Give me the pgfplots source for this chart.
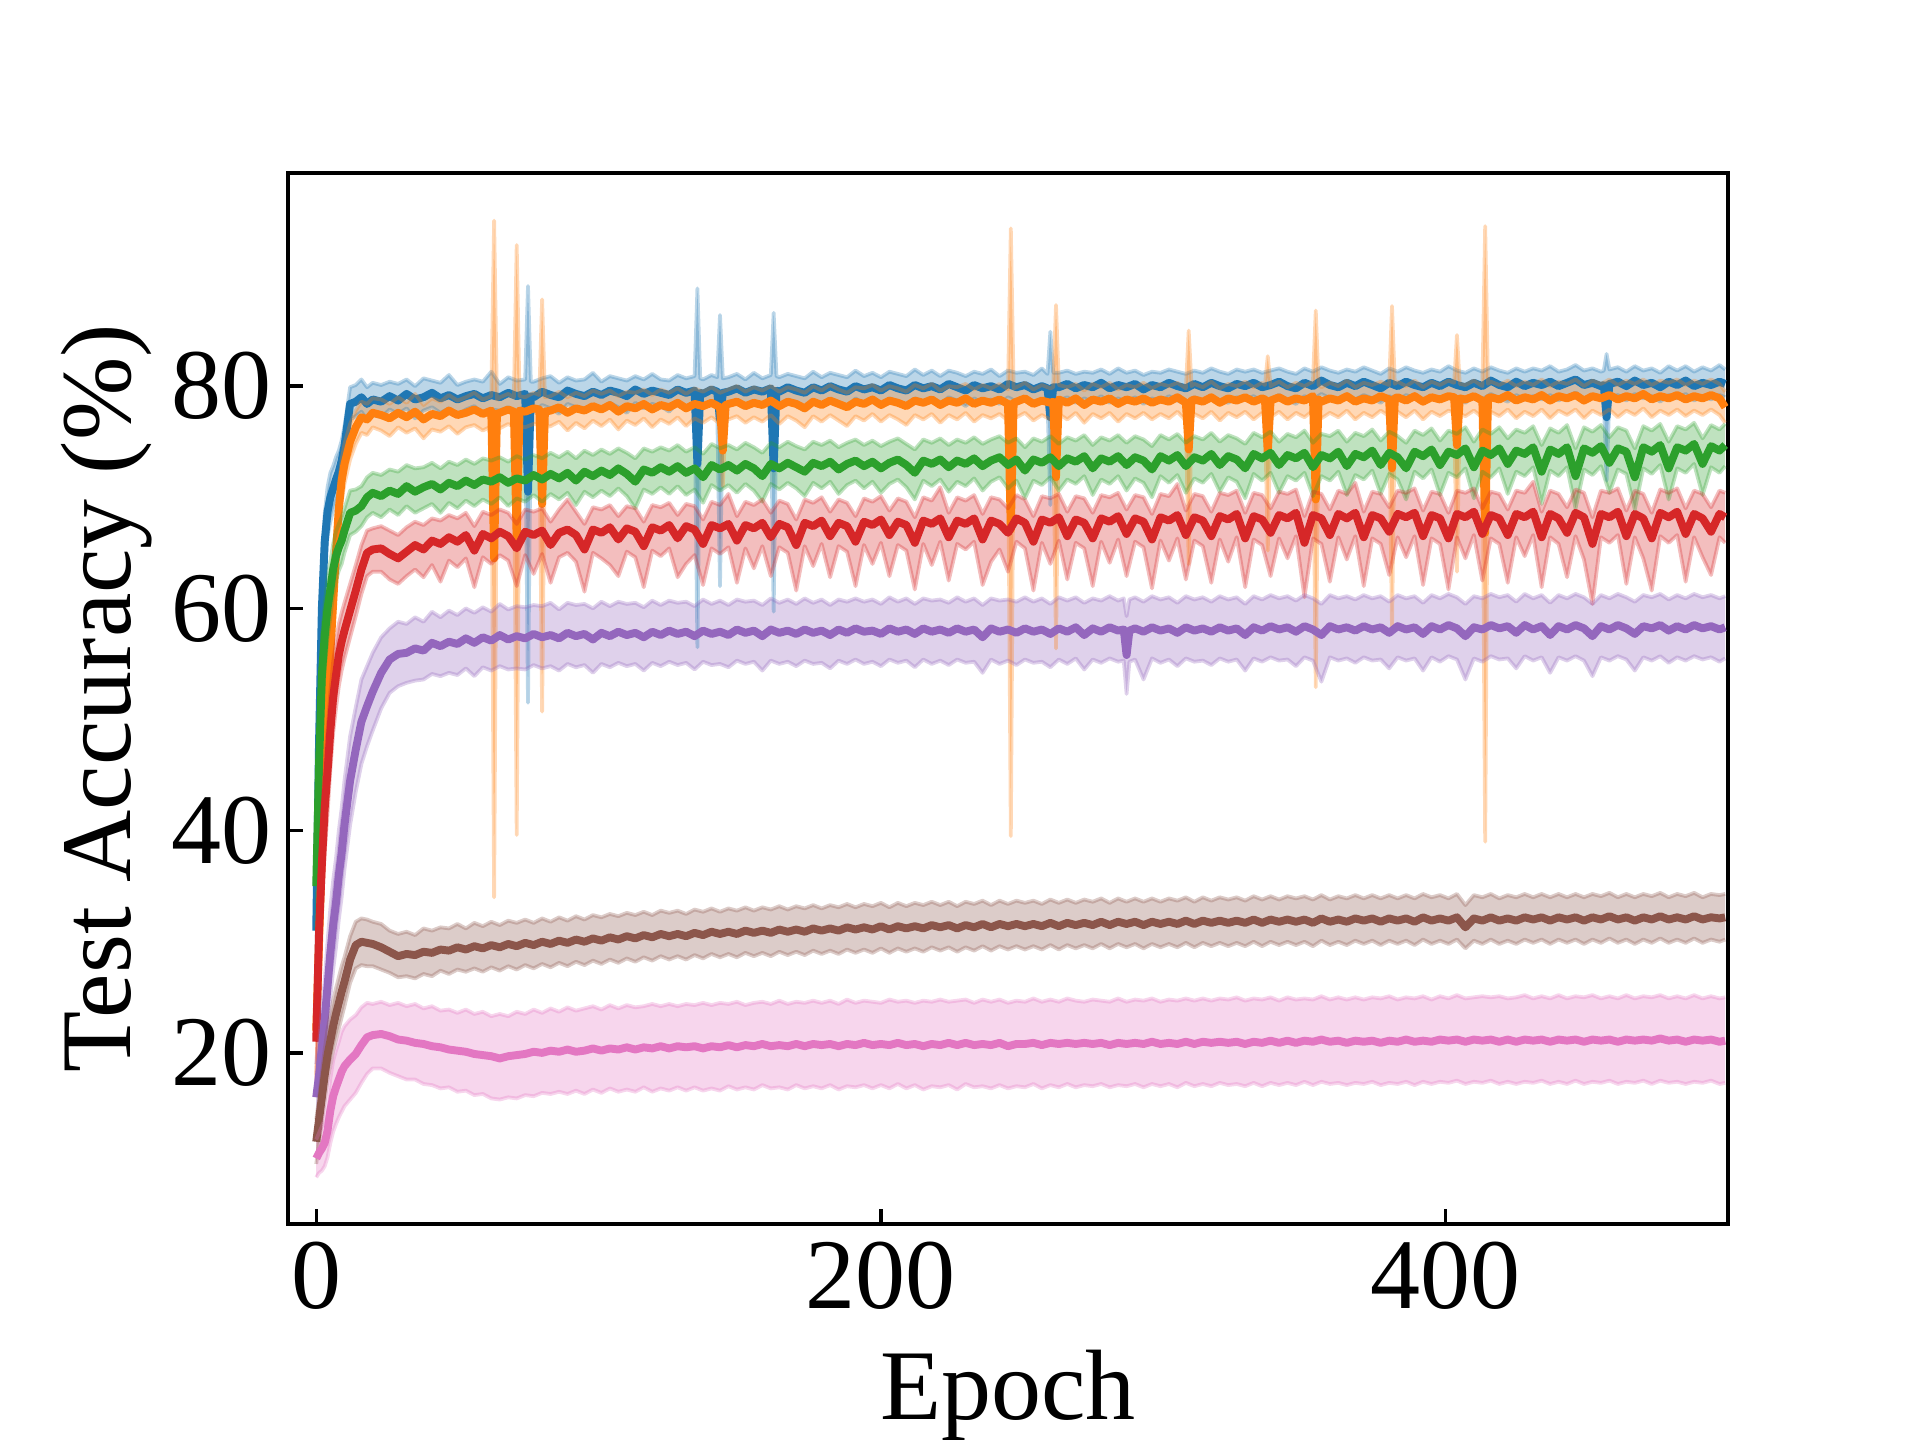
\documentclass[border=0pt]{standalone}
\usepackage{fontspec}
\setmainfont{Liberation Serif}
\usepackage{pgfplots}
\usepackage{pgfplotstable}
\pgfplotsset{compat=1.18}
\usepgfplotslibrary{fillbetween}
\definecolor{cB}{HTML}{1F77B4}
\definecolor{cO}{HTML}{FF7F0E}
\definecolor{cG}{HTML}{2CA02C}
\definecolor{cR}{HTML}{D62728}
\definecolor{cP}{HTML}{9467BD}
\definecolor{cN}{HTML}{8C564B}
\definecolor{cK}{HTML}{E377C2}

\pgfplotstableread{
x m lo hi
0 31.0 27.5 34.5
1 48.0 44.0 52.0
2 60.0 56.5 63.5
3 66.0 63.5 68.5
4 68.7 66.5 70.9
5 70.0 67.8 72.2
6 70.8 68.8 72.8
7 71.6 69.7 73.6
8 72.3 70.5 74.2
9 73.3 71.6 75.1
10 74.6 72.9 76.4
11 76.5 75.0 78.1
12 78.4 77.0 79.9
14 78.6 77.3 80.1
16 79.0 77.7 80.6
18 78.4 77.0 79.9
20 78.8 77.4 80.3
23 78.6 77.2 80.1
26 79.1 77.9 80.4
29 78.7 77.5 80.2
32 79.3 78.0 80.6
35 78.8 77.1 80.0
38 79.0 77.8 80.7
41 79.4 78.1 80.5
44 78.9 77.6 80.3
47 79.2 78.0 81.0
50 78.8 77.4 80.1
53 79.1 77.9 80.4
56 79.3 78.2 80.6
59 78.9 77.5 80.4
62 79.2 77.9 81.3
65 79.0 77.8 80.2
68 79.4 78.1 80.8
71 79.1 77.6 80.5
74 79.3 78.2 80.6
75 70.5 51.5 89.0
76 79.1 77.9 80.4
77 79.0 77.7 80.4
80 79.5 78.3 80.7
83 79.2 78.0 80.9
86 79.0 77.5 80.3
89 79.6 78.4 80.8
92 79.3 78.1 80.5
95 79.1 77.8 80.6
98 79.5 78.3 81.2
101 79.2 77.9 80.4
104 79.6 78.5 80.9
107 79.4 78.1 80.7
110 79.1 77.6 80.5
113 79.7 78.5 80.9
116 79.3 78.0 80.6
119 79.6 78.4 81.1
122 79.4 78.2 80.6
125 79.2 77.7 80.5
128 79.7 78.5 81.0
131 79.4 78.2 80.7
134 79.6 78.3 80.9
135 73.0 56.5 88.8
136 79.4 78.1 80.7
137 79.3 78.0 80.6
140 79.7 78.6 81.0
142 79.5 78.2 80.8
143 77.0 62.0 86.4
144 79.4 78.1 80.7
146 79.5 78.2 80.8
149 79.8 78.6 81.1
152 79.4 78.0 80.6
155 79.7 78.5 81.2
158 79.5 78.2 80.7
161 79.8 78.6 81.0
162 72.6 59.7 86.6
163 79.6 78.4 80.9
164 79.5 78.3 80.8
167 79.9 78.7 81.1
170 79.6 78.2 80.9
173 79.4 77.8 80.7
176 79.9 78.7 81.3
179 79.6 78.4 80.8
182 80.0 78.8 81.2
185 79.7 78.5 81.0
188 79.5 78.0 80.8
191 80.0 78.9 81.4
194 79.7 78.4 80.9
197 79.9 78.7 81.2
200 79.6 78.3 80.8
203 80.1 78.9 81.3
206 79.8 78.6 81.1
209 79.6 78.1 80.9
212 80.1 78.9 81.5
215 79.8 78.6 81.0
218 80.0 78.8 81.4
221 79.7 78.4 80.9
224 80.2 79.0 81.4
227 79.9 78.7 81.2
230 79.6 78.2 80.9
233 80.1 78.9 81.3
236 79.8 78.5 81.1
239 80.0 78.8 81.5
242 79.7 78.4 80.9
245 80.2 79.0 81.4
248 79.9 78.6 81.2
251 80.1 78.9 81.3
254 79.7 78.3 81.0
257 80.0 78.8 81.6
259 79.8 78.6 81.1
260 77.2 69.3 84.9
261 79.9 78.7 81.2
263 79.9 78.7 81.2
266 80.2 79.0 81.4
269 79.8 78.5 81.1
272 80.1 78.9 81.3
275 79.9 78.6 81.2
278 80.3 79.1 81.5
281 79.8 78.5 81.1
284 80.1 78.9 81.6
287 79.9 78.6 81.2
290 80.2 79.0 81.4
293 79.7 78.4 81.0
296 80.1 78.9 81.3
299 79.9 78.6 81.2
302 80.3 79.1 81.5
305 80.0 78.7 81.3
308 79.8 78.4 81.1
311 80.2 79.0 81.4
314 79.9 78.7 81.2
317 80.3 79.1 81.6
320 80.0 78.7 81.3
323 79.8 78.5 81.1
326 80.2 79.0 81.5
329 80.0 78.8 81.3
332 80.3 79.1 81.5
335 79.9 78.6 81.2
338 80.1 78.8 81.4
341 80.4 79.2 81.6
344 80.0 78.7 81.3
347 79.8 78.4 81.1
350 80.3 79.1 81.6
353 80.0 78.8 81.3
356 80.5 79.3 81.7
359 80.1 78.9 81.4
362 79.9 78.6 81.2
365 80.3 79.1 81.5
368 80.0 78.8 81.3
371 80.4 79.2 81.7
374 80.1 78.9 81.4
377 79.8 78.5 81.1
380 80.3 79.1 81.6
383 80.0 78.7 81.3
386 80.4 79.2 81.7
389 80.1 78.9 81.4
392 79.9 78.6 81.2
395 80.3 79.1 81.5
398 80.0 78.8 81.3
401 80.4 79.2 81.8
404 80.1 78.9 81.4
407 79.9 78.5 81.2
410 80.3 79.1 81.6
413 80.0 78.8 81.3
416 80.5 79.3 81.7
419 80.1 78.9 81.4
422 79.9 78.6 81.2
425 80.4 79.2 81.6
428 80.0 78.8 81.3
431 80.3 79.1 81.6
434 80.1 78.8 81.4
437 80.4 79.2 81.8
440 80.0 78.7 81.3
443 80.3 79.1 81.5
446 80.6 79.4 81.9
449 80.1 78.9 81.4
452 80.3 79.1 81.6
455 80.0 78.8 81.3
456 80.1 78.9 81.4
457 77.2 71.5 82.9
458 80.2 79.0 81.5
461 80.4 79.2 81.7
464 80.0 78.7 81.3
467 80.5 79.3 81.8
470 80.1 78.9 81.4
473 80.3 79.1 81.6
476 79.9 78.6 81.2
479 80.4 79.2 81.8
482 80.1 78.9 81.4
485 80.5 79.3 81.8
488 80.0 78.7 81.3
491 80.3 79.1 81.7
494 80.1 78.8 81.4
497 80.4 79.2 81.9
499 80.2 79.0 81.5
}\tB

\pgfplotstableread{
x m lo hi
0 22.0 18.0 26.0
1 30.0 26.0 34.0
2 38.0 33.5 42.5
3 45.0 40.5 49.5
4 51.0 47.0 55.0
5 56.0 52.5 59.5
6 60.5 57.5 63.5
7 65.0 62.5 67.5
8 69.0 67.0 71.0
9 71.5 69.6 73.4
10 73.0 71.2 74.8
11 74.0 72.3 75.7
12 75.0 73.4 76.6
14 76.3 74.8 77.8
16 77.2 75.8 78.6
18 77.0 75.6 78.4
20 77.6 76.3 78.9
23 77.4 76.0 78.8
26 77.1 75.5 78.4
29 77.6 76.3 79.0
32 77.2 75.8 78.5
35 77.7 76.2 79.3
38 77.0 75.3 78.3
41 77.5 76.1 78.9
44 77.3 75.9 78.6
47 77.8 76.4 79.2
50 77.4 75.7 78.7
53 77.6 76.3 79.0
56 77.9 76.5 79.4
59 77.5 76.0 78.8
62 77.8 76.4 79.1
63 64.5 34.0 94.9
64 77.5 76.1 78.8
65 77.6 76.2 79.0
68 77.9 76.6 79.3
70 77.7 76.3 79.0
71 66.1 39.6 92.7
72 77.8 76.4 79.1
74 77.7 76.3 79.0
77 78.0 76.6 79.4
79 77.9 76.5 79.2
80 69.4 50.7 87.8
81 77.7 76.3 79.0
83 77.8 76.4 79.1
86 78.1 76.8 79.5
89 77.6 76.0 79.0
92 78.0 76.7 79.4
95 77.8 76.2 79.1
98 78.2 76.9 79.6
101 77.9 76.4 79.3
104 78.3 77.0 79.6
107 77.7 76.1 79.1
110 78.2 76.9 79.5
113 78.0 76.5 79.4
116 78.4 77.1 79.7
119 77.9 76.3 79.2
122 78.3 77.0 79.7
125 78.1 76.6 79.4
128 78.5 77.2 79.8
131 78.0 76.4 79.3
134 78.4 77.1 79.8
137 78.2 76.7 79.5
140 78.5 77.2 79.9
143 78.1 76.6 79.4
144 74.2 71.0 79.5
145 78.3 77.0 79.6
146 78.4 77.0 79.7
149 78.6 77.3 80.0
152 78.2 76.7 79.5
155 78.5 77.2 79.9
158 78.3 76.8 79.6
161 78.7 77.4 80.0
164 78.2 76.6 79.5
167 78.6 77.3 79.9
170 78.4 76.9 79.7
173 78.0 76.3 79.4
176 78.6 77.3 80.0
179 78.3 76.8 79.6
182 78.7 77.4 80.1
185 78.4 76.9 79.7
188 78.1 76.4 79.4
191 78.6 77.3 79.9
194 78.4 76.9 79.8
197 78.8 77.5 80.1
200 78.3 76.8 79.6
203 78.7 77.4 80.0
206 78.5 77.0 79.8
209 78.2 76.5 79.5
212 78.7 77.4 80.1
215 78.5 77.0 79.8
218 78.8 77.5 80.2
221 78.3 76.7 79.6
224 78.7 77.4 80.0
227 78.5 77.0 79.9
230 78.9 77.6 80.2
233 78.4 76.8 79.7
236 78.7 77.4 80.1
239 78.5 77.1 79.8
242 78.8 77.5 80.2
245 78.4 76.9 79.7
246 67.1 39.5 94.2
247 78.5 77.1 79.8
248 78.6 77.2 79.9
251 78.9 77.6 80.3
254 78.4 76.9 79.7
257 78.7 77.4 80.1
260 78.5 77.0 79.8
261 78.6 77.2 79.9
262 71.8 56.4 87.3
263 78.8 77.5 80.1
266 78.5 77.0 79.9
269 78.9 77.6 80.2
272 78.3 76.7 79.6
275 78.8 77.5 80.2
278 78.6 77.1 79.9
281 78.9 77.6 80.3
284 78.4 76.8 79.7
287 78.8 77.5 80.1
290 78.6 77.1 79.9
293 78.9 77.6 80.3
296 78.5 77.0 79.8
299 78.8 77.5 80.2
302 78.6 77.1 80.0
305 79.0 77.7 80.3
308 78.5 76.9 79.8
309 74.3 64.0 85.0
310 78.7 77.3 80.0
311 78.8 77.5 80.2
314 78.6 77.1 79.9
317 79.0 77.7 80.4
320 78.5 76.9 79.8
323 78.9 77.6 80.2
326 78.7 77.2 80.0
329 79.0 77.7 80.4
332 78.6 77.0 79.9
335 78.9 77.6 80.3
336 78.8 77.4 80.1
337 74.0 65.2 82.7
338 78.7 77.2 80.0
341 79.0 77.7 80.4
344 78.6 77.0 79.9
347 78.9 77.6 80.3
350 78.7 77.2 80.0
353 79.1 77.8 80.4
354 69.8 52.9 86.8
355 78.8 77.4 80.1
356 78.6 77.1 79.9
359 78.9 77.6 80.3
362 78.7 77.2 80.0
365 79.1 77.8 80.5
368 78.6 77.0 79.9
371 78.9 77.6 80.3
374 78.7 77.2 80.1
377 79.1 77.8 80.4
380 78.8 77.3 80.1
381 72.6 58.0 87.2
382 78.9 77.5 80.2
383 79.0 77.7 80.4
386 78.7 77.2 80.0
389 79.1 77.8 80.5
392 78.6 77.0 79.9
395 79.0 77.7 80.4
398 78.8 77.3 80.1
401 79.1 77.8 80.5
403 79.0 77.6 80.3
404 74.7 63.3 84.6
405 78.9 77.5 80.2
407 78.8 77.3 80.1
410 79.1 77.8 80.5
413 78.7 77.2 80.0
414 66.8 39.0 94.4
415 78.9 77.5 80.2
416 79.0 77.7 80.4
419 78.8 77.3 80.1
422 79.2 77.9 80.5
425 78.7 77.1 80.0
428 79.0 77.7 80.4
431 78.8 77.3 80.1
434 79.2 77.9 80.6
437 78.7 77.1 80.0
440 79.1 77.8 80.4
443 78.9 77.4 80.2
446 79.2 77.9 80.6
449 78.7 77.1 80.0
452 79.1 77.8 80.5
455 78.9 77.4 80.2
458 79.2 77.9 80.6
461 78.8 77.2 80.1
464 79.1 77.8 80.5
467 78.9 77.4 80.2
470 79.3 78.0 80.6
473 78.8 77.2 80.1
476 79.1 77.8 80.5
479 78.9 77.4 80.3
482 79.2 77.9 80.6
485 78.8 77.3 80.1
488 79.1 77.8 80.5
491 78.9 77.4 80.2
494 79.2 77.9 80.6
497 78.9 77.4 80.2
499 78.1 76.7 79.5
}\tO

\pgfplotstableread{
x m lo hi
0 35.0 31.0 39.0
1 46.0 42.0 50.0
2 54.0 50.5 57.5
3 57.5 54.5 60.5
4 60.0 57.3 62.7
5 61.7 59.2 64.2
6 63.5 61.2 65.8
7 64.7 62.5 66.9
8 65.5 63.4 67.6
9 66.1 64.0 68.2
10 67.0 65.0 69.0
12 68.6 66.6 70.6
14 68.8 66.9 70.7
16 69.2 67.4 71.0
18 70.0 68.2 71.8
20 70.4 68.6 72.2
23 70.1 68.2 72.0
26 70.6 68.9 72.5
29 70.3 68.4 72.3
32 71.0 69.2 72.9
35 70.5 68.6 72.6
38 70.9 69.0 72.7
41 71.2 69.4 73.1
44 70.7 68.6 72.6
47 71.3 69.5 73.2
50 71.0 69.0 72.9
53 71.5 69.7 73.4
56 71.1 69.2 73.0
59 71.6 69.8 73.5
62 71.4 69.4 73.3
65 71.8 70.0 73.6
68 71.3 69.2 73.2
71 71.7 69.9 73.7
74 71.5 69.6 73.4
77 72.0 70.2 73.8
80 71.6 69.6 73.5
83 72.1 70.3 74.0
86 71.7 69.8 73.6
89 72.2 70.4 74.1
92 71.5 69.3 73.5
95 72.3 70.5 74.2
98 71.9 70.0 73.8
101 72.4 70.6 74.3
104 72.0 70.1 73.9
107 72.6 70.8 74.4
110 72.1 70.1 74.0
113 71.4 69.0 73.5
116 72.5 70.7 74.4
119 72.2 70.3 74.1
122 72.7 70.9 74.5
125 72.3 70.3 74.2
128 72.8 71.0 74.7
131 72.2 70.2 74.1
134 72.6 70.7 74.5
137 71.8 69.5 73.9
140 72.9 71.1 74.8
143 72.5 70.6 74.4
146 72.9 71.1 74.7
149 72.4 70.4 74.3
152 73.0 71.2 74.9
155 72.6 70.6 74.5
158 71.9 69.6 74.0
161 73.0 71.2 74.9
164 72.6 70.7 74.5
167 73.1 71.3 75.0
170 72.7 70.8 74.6
173 72.3 70.1 74.3
176 73.1 71.3 75.0
179 72.8 70.8 74.7
182 73.2 71.4 75.1
185 72.5 70.3 74.5
188 73.0 71.1 74.9
191 73.3 71.5 75.2
194 72.8 70.8 74.7
197 73.2 71.4 75.1
200 72.6 70.4 74.6
203 73.1 71.2 75.0
206 73.4 71.6 75.3
209 72.9 70.9 74.8
212 72.2 69.8 74.3
215 73.3 71.5 75.2
218 73.0 71.0 74.9
221 73.4 71.6 75.3
224 72.7 70.5 74.7
227 73.3 71.4 75.2
230 73.0 71.0 74.9
233 73.5 71.7 75.4
236 72.8 70.6 74.8
239 73.3 71.4 75.2
242 73.6 71.8 75.5
245 72.9 70.8 74.9
248 73.4 71.5 75.3
251 72.4 69.9 74.5
254 73.4 71.5 75.3
257 73.1 71.1 75.0
260 73.6 71.8 75.5
263 72.8 70.6 74.8
266 73.5 71.6 75.4
269 73.2 71.2 75.1
272 73.7 71.9 75.6
275 72.6 70.2 74.7
278 73.5 71.6 75.4
281 73.2 71.2 75.1
284 73.7 71.9 75.6
287 72.9 70.6 74.9
290 73.6 71.7 75.5
293 73.3 71.3 75.2
296 72.5 70.0 74.6
299 73.7 71.9 75.6
302 73.3 71.3 75.2
305 73.8 72.0 75.7
308 72.8 70.4 74.9
311 73.6 71.7 75.5
314 73.3 71.3 75.2
317 73.9 72.1 75.8
320 72.9 70.5 75.0
323 73.7 71.8 75.6
326 73.4 71.4 75.3
329 72.6 69.9 74.8
332 73.9 72.1 75.8
335 73.5 71.5 75.4
338 74.0 72.2 75.9
341 72.9 70.4 75.0
344 73.8 71.9 75.7
347 73.5 71.5 75.4
350 74.0 72.2 76.0
353 72.7 70.1 74.9
356 73.8 71.9 75.7
359 73.5 71.5 75.5
362 74.1 72.3 76.0
365 72.8 70.2 75.0
368 73.9 72.0 75.8
371 73.6 71.6 75.5
374 74.2 72.4 76.1
377 72.9 70.3 75.1
380 74.0 72.1 75.9
383 73.6 71.6 75.5
386 72.6 69.8 74.9
389 74.1 72.3 76.0
392 73.7 71.7 75.6
395 74.3 72.5 76.2
398 72.9 70.2 75.1
401 74.1 72.2 76.0
404 73.8 71.8 75.7
407 74.4 72.6 76.3
410 72.7 69.9 75.0
413 74.2 72.3 76.1
416 73.8 71.8 75.7
419 74.4 72.6 76.3
422 73.0 70.3 75.3
425 74.2 72.3 76.1
428 73.9 71.9 75.8
431 74.5 72.7 76.4
434 72.3 69.4 74.7
437 74.3 72.4 76.2
440 73.9 71.9 75.8
443 74.5 72.7 76.5
446 71.9 69.0 74.4
449 74.4 72.5 76.3
452 74.0 72.0 75.9
455 74.6 72.8 76.5
458 73.1 70.4 75.4
461 74.4 72.5 76.3
464 74.1 72.1 76.0
467 71.8 68.9 74.4
470 74.5 72.6 76.4
473 74.1 72.1 76.0
476 74.7 72.9 76.6
479 72.6 69.8 75.0
482 74.5 72.6 76.4
485 74.2 72.2 76.1
488 74.8 73.0 76.7
491 73.0 70.2 75.3
494 74.6 72.7 76.5
497 74.2 72.2 76.1
499 74.7 72.8 76.6
}\tG

\pgfplotstableread{
x m lo hi
0 21.0 17.5 24.5
1 31.0 27.0 35.0
2 37.0 33.0 41.0
3 42.0 38.0 46.0
4 45.3 41.5 49.1
5 49.0 45.5 52.5
6 52.0 48.8 55.2
7 54.0 51.0 57.0
8 55.8 53.0 58.6
9 57.0 54.4 59.6
10 58.0 55.5 60.5
12 59.8 57.4 62.2
14 61.6 59.3 63.9
16 63.5 61.3 65.7
18 65.0 62.9 67.0
20 65.3 63.3 67.2
23 65.4 63.3 67.4
26 64.9 62.6 67.0
29 64.5 62.2 66.6
32 65.1 62.9 67.3
35 65.7 63.5 67.8
38 65.3 62.8 67.5
41 66.1 63.9 68.1
44 65.8 62.4 67.9
47 66.4 64.3 68.4
50 66.0 63.7 68.1
53 66.6 64.5 68.6
56 65.2 61.9 67.4
59 66.7 64.6 68.7
62 66.3 64.0 68.4
65 66.9 64.8 68.9
68 66.5 64.3 68.6
71 65.4 62.0 67.6
74 66.9 64.8 68.9
77 66.6 63.1 68.7
80 67.0 64.9 69.0
83 65.7 62.3 67.8
86 66.8 64.6 68.9
89 67.1 65.0 69.8
92 66.6 64.2 68.7
95 65.3 61.5 67.6
98 67.1 65.0 69.1
101 66.8 64.5 68.9
104 67.3 63.9 69.3
107 66.2 62.9 68.3
110 67.2 65.1 69.2
113 66.9 64.6 69.0
116 65.6 61.9 67.8
119 67.3 65.2 69.3
122 67.0 64.7 69.1
125 67.5 65.4 69.5
128 66.3 62.8 68.4
131 67.4 64.0 69.4
134 67.1 64.8 69.2
137 65.8 62.1 68.0
140 67.5 65.4 69.6
143 67.2 64.9 69.3
146 67.6 65.5 70.3
149 66.1 62.3 68.3
152 67.5 65.4 69.6
155 67.2 63.6 69.3
158 67.7 65.6 69.8
161 66.4 62.9 68.6
164 67.6 65.5 69.7
167 67.3 65.0 69.4
170 65.7 61.6 68.0
173 67.7 65.6 69.8
176 67.4 63.8 69.5
179 67.9 65.8 70.0
182 66.5 62.8 68.7
185 67.7 65.6 69.8
188 67.4 65.1 69.5
191 66.0 62.0 68.3
194 67.8 65.7 69.9
197 67.5 64.0 69.6
200 68.0 65.9 70.1
203 66.6 62.9 68.8
206 67.8 65.7 69.9
209 67.5 65.2 69.6
212 65.9 61.7 68.2
215 67.9 65.8 70.0
218 67.6 63.9 69.7
221 68.1 66.0 70.9
224 66.4 62.5 68.6
227 67.9 65.8 70.0
230 67.6 65.3 69.7
233 68.1 66.0 70.2
236 66.2 62.1 68.5
239 67.9 64.2 70.0
242 67.6 65.3 69.8
245 66.8 63.3 69.0
248 68.1 66.0 70.2
251 67.7 65.4 69.8
254 66.0 61.6 68.3
257 68.0 65.9 70.1
260 67.7 64.0 69.9
263 68.2 66.1 70.3
266 66.5 62.6 68.7
269 68.0 65.9 70.1
272 67.7 65.4 69.9
275 66.3 62.0 68.6
278 68.1 66.0 70.2
281 67.8 64.1 70.0
284 68.3 66.2 70.4
287 66.7 62.9 68.9
290 68.1 66.0 70.2
293 67.8 65.5 70.0
296 66.2 61.8 68.5
299 68.2 66.1 70.3
302 67.9 64.3 70.1
305 68.4 66.3 71.2
308 66.6 62.6 68.8
311 68.2 66.1 70.3
314 67.9 65.6 70.1
317 66.5 62.3 68.7
320 68.3 66.2 70.4
323 68.0 64.2 70.2
326 68.5 66.4 70.6
329 66.3 61.9 68.6
332 68.3 66.2 70.4
335 68.0 65.7 70.2
338 66.8 62.9 69.0
341 68.4 66.3 70.5
344 68.1 64.5 70.3
347 68.6 66.5 70.7
350 65.9 61.0 68.3
353 68.4 66.3 70.5
356 68.1 65.8 70.3
359 66.6 62.4 68.9
362 68.5 66.4 70.6
365 68.1 64.4 70.3
368 68.6 66.5 71.3
371 66.4 62.0 68.7
374 68.4 66.3 70.5
377 68.1 65.8 70.3
380 66.9 63.0 69.1
383 68.5 66.4 70.6
386 68.2 64.6 70.4
389 68.6 66.5 70.8
392 66.5 62.1 68.8
395 68.4 66.3 70.5
398 68.1 65.8 70.3
401 66.3 61.7 68.6
404 68.5 66.4 70.6
407 68.2 64.5 70.4
410 68.7 66.6 70.8
413 66.7 62.5 69.0
416 68.4 66.3 70.5
419 68.1 65.8 70.3
422 66.6 62.3 68.9
425 68.5 66.4 70.6
428 68.2 64.7 70.4
431 68.7 66.6 71.4
434 66.4 61.9 68.7
437 68.5 66.4 70.6
440 68.1 65.8 70.3
443 66.8 62.8 69.1
446 68.6 66.5 70.7
449 68.2 64.4 70.4
452 65.8 60.4 68.2
455 68.5 66.4 70.6
458 68.2 65.9 70.4
461 68.7 66.6 70.8
464 66.5 62.2 68.8
467 68.5 66.4 70.6
470 68.1 64.5 70.3
473 66.3 61.6 68.6
476 68.6 66.5 70.7
479 68.2 65.9 70.4
482 68.7 66.6 70.8
485 66.7 62.4 69.0
488 68.5 66.4 70.6
491 68.1 64.6 70.3
494 66.9 63.0 69.1
497 68.5 66.4 70.6
499 68.2 65.9 70.4
}\tR

\pgfplotstableread{
x m lo hi
0 16.0 13.0 19.0
1 18.0 15.0 21.0
2 20.5 17.0 24.0
3 23.0 19.5 26.5
4 26.0 22.0 30.0
5 29.0 25.0 33.0
6 31.5 27.5 35.5
7 33.5 29.5 37.5
8 36.0 32.0 40.0
9 38.0 34.0 42.0
10 40.5 36.5 44.5
12 44.5 40.5 48.5
14 47.3 43.5 51.1
16 49.8 46.0 53.6
18 51.2 47.6 54.8
20 52.5 49.0 56.0
23 54.2 51.0 57.4
26 55.4 52.4 58.2
29 55.9 53.0 58.8
32 56.0 53.3 58.6
35 56.4 53.5 59.2
38 56.2 53.6 58.8
41 56.9 54.1 59.7
44 56.6 53.9 59.2
47 57.0 54.2 59.8
50 56.8 54.0 59.4
53 57.3 54.6 60.0
56 56.9 53.9 59.6
59 57.4 54.7 60.1
62 57.1 54.4 59.7
65 57.6 54.8 60.4
68 57.2 54.5 59.9
71 57.5 54.6 60.2
74 57.3 54.5 60.1
77 57.7 54.9 60.3
80 57.4 54.6 60.2
83 57.6 54.8 60.5
86 57.3 54.4 59.9
89 57.8 55.0 60.5
92 57.5 54.7 60.3
95 57.7 54.9 60.4
98 57.2 54.2 60.0
101 57.8 55.0 60.6
104 57.5 54.7 60.2
107 57.9 55.1 60.6
110 57.6 54.8 60.4
113 57.8 55.0 60.5
116 57.4 54.4 60.1
119 57.9 55.1 60.7
122 57.6 54.8 60.3
125 58.0 55.2 60.7
128 57.7 54.9 60.5
131 57.9 55.1 60.6
134 57.5 54.5 60.2
137 58.0 55.2 60.8
140 57.7 54.9 60.4
143 57.9 55.0 60.7
146 57.6 54.7 60.3
149 58.1 55.3 60.8
152 57.8 55.0 60.6
155 58.0 55.2 60.7
158 57.5 54.4 60.3
161 58.1 55.3 60.9
164 57.8 55.0 60.5
167 58.0 55.2 60.8
170 57.7 54.8 60.4
173 58.1 55.3 60.9
176 57.8 55.0 60.5
179 58.0 55.1 60.8
182 57.6 54.6 60.3
185 58.1 55.3 60.8
188 57.8 55.0 60.6
191 58.2 55.4 60.9
194 57.9 55.0 60.6
197 58.0 55.2 60.8
200 57.7 54.8 60.4
203 58.2 55.4 61.0
206 57.9 55.1 60.6
209 58.1 55.3 60.9
212 57.7 54.7 60.4
215 58.2 55.4 60.9
218 57.9 55.0 60.7
221 58.1 55.3 60.8
224 57.8 54.9 60.5
227 58.2 55.4 61.0
230 57.9 55.1 60.6
233 58.1 55.2 60.9
236 57.4 54.2 60.3
239 58.2 55.4 60.9
242 57.9 55.0 60.7
245 58.1 55.3 60.8
248 57.8 54.9 60.6
251 58.2 55.4 61.0
254 57.9 55.1 60.6
257 58.1 55.2 60.9
260 57.7 54.7 60.4
263 58.2 55.4 61.0
266 57.9 55.0 60.7
269 58.3 55.5 61.0
272 57.6 54.5 60.5
275 58.2 55.4 60.9
278 57.9 55.1 60.7
281 58.3 55.5 61.1
284 58.0 55.2 60.7
286 58.1 55.3 60.9
287 55.8 52.3 59.3
288 58.0 55.2 60.8
290 58.2 55.4 61.0
293 57.9 53.6 60.6
296 58.3 55.5 61.1
299 58.0 55.1 60.8
302 58.2 55.4 61.0
305 57.8 54.8 60.5
308 58.3 55.5 61.1
311 58.0 55.2 60.8
314 58.2 55.3 61.0
317 57.9 54.9 60.6
320 58.3 55.5 61.1
323 58.0 55.2 60.8
326 58.2 55.4 61.0
329 57.6 54.4 60.4
332 58.3 55.5 61.1
335 58.0 55.2 60.8
338 58.4 55.6 61.2
341 58.1 55.3 60.9
344 58.3 55.4 61.1
347 57.9 54.8 60.7
350 58.4 55.6 61.2
353 58.1 55.3 60.9
356 57.6 53.4 60.4
359 58.4 55.6 61.2
362 58.1 55.3 60.9
365 58.3 55.5 61.1
368 58.0 55.1 60.8
371 58.4 55.6 61.2
374 58.1 55.3 60.9
377 58.3 55.4 61.1
380 57.8 54.6 60.6
383 58.4 55.6 61.2
386 58.1 55.3 60.9
389 58.3 55.5 61.1
392 57.7 54.4 60.5
395 58.4 55.6 61.2
398 58.1 55.2 60.9
401 58.5 55.7 61.3
404 58.2 55.4 61.0
407 57.5 53.6 60.4
410 58.3 55.5 61.1
413 58.1 55.2 60.9
416 58.5 55.7 61.3
419 58.2 55.4 61.0
422 58.4 55.5 61.2
425 57.8 54.6 60.6
428 58.5 55.7 61.3
431 58.1 55.3 60.9
434 58.4 55.6 61.2
437 57.6 54.2 60.5
440 58.4 55.6 61.2
443 58.1 55.3 60.9
446 58.5 55.7 61.3
449 58.2 55.3 61.0
452 57.5 53.9 60.4
455 58.4 55.6 61.2
458 58.1 55.3 60.9
461 58.5 55.7 61.3
464 58.2 55.4 61.0
467 57.7 54.4 60.6
470 58.4 55.6 61.2
473 58.2 55.3 61.0
476 58.5 55.7 61.3
479 58.0 55.1 60.8
482 58.4 55.6 61.2
485 58.1 55.3 60.9
488 58.5 55.7 61.3
491 58.2 55.4 61.0
494 58.4 55.6 61.2
497 58.1 55.2 60.9
499 58.3 55.5 61.1
}\tP

\pgfplotstableread{
x m lo hi
0 12.0 10.0 14.0
1 14.0 12.0 16.0
2 16.0 13.8 18.2
3 18.0 15.7 20.3
4 19.8 17.5 22.1
5 21.1 18.8 23.4
6 22.4 20.1 24.7
7 23.5 21.2 25.8
8 24.5 22.2 26.8
9 25.5 23.2 27.8
10 26.4 24.2 28.6
12 28.4 26.3 30.5
14 29.7 27.6 31.8
16 30.0 27.9 32.1
18 29.9 27.8 32.0
20 29.8 27.8 31.8
23 29.5 27.5 31.6
26 29.1 27.2 31.0
29 28.7 26.8 30.7
32 28.9 26.9 30.9
35 28.8 26.7 30.6
38 29.1 27.1 31.2
41 29.0 26.9 31.0
44 29.3 27.4 31.3
47 29.2 27.1 31.2
50 29.5 27.5 31.6
53 29.3 27.3 31.2
56 29.6 27.6 31.7
59 29.4 27.3 31.4
62 29.7 27.7 31.8
65 29.5 27.4 31.5
68 29.8 27.8 31.9
71 29.6 27.5 31.7
74 29.9 27.9 32.0
77 29.7 27.6 31.7
80 30.0 28.0 32.1
83 29.8 27.7 31.8
86 30.1 28.1 32.2
89 29.9 27.8 31.9
92 30.2 28.2 32.3
95 30.0 27.9 32.0
98 30.3 28.3 32.4
101 30.1 28.0 32.2
104 30.4 28.4 32.5
107 30.2 28.1 32.3
110 30.5 28.5 32.6
113 30.3 28.2 32.4
116 30.6 28.6 32.7
119 30.4 28.3 32.4
122 30.7 28.7 32.8
125 30.5 28.4 32.6
128 30.7 28.7 32.8
131 30.5 28.4 32.5
134 30.8 28.8 32.9
137 30.6 28.5 32.7
140 30.9 28.9 33.0
143 30.7 28.6 32.7
146 30.9 28.9 33.0
149 30.7 28.6 32.8
152 31.0 29.0 33.1
155 30.8 28.7 32.8
158 31.0 29.0 33.1
161 30.8 28.7 32.9
164 31.1 29.1 33.2
167 30.9 28.8 32.9
170 31.1 29.1 33.2
173 30.9 28.8 33.0
176 31.2 29.2 33.3
179 31.0 28.9 33.0
182 31.2 29.2 33.3
185 31.0 28.9 33.1
188 31.3 29.3 33.4
191 31.1 29.0 33.1
194 31.3 29.3 33.4
197 31.1 29.0 33.2
200 31.4 29.4 33.5
203 31.1 29.0 33.1
206 31.4 29.4 33.5
209 31.2 29.1 33.2
212 31.4 29.4 33.5
215 31.2 29.1 33.3
218 31.5 29.5 33.6
221 31.3 29.2 33.3
224 31.5 29.5 33.6
227 31.2 29.1 33.2
230 31.5 29.5 33.6
233 31.3 29.2 33.4
236 31.6 29.6 33.7
239 31.3 29.2 33.3
242 31.6 29.6 33.7
245 31.4 29.3 33.4
248 31.6 29.6 33.7
251 31.4 29.3 33.5
254 31.6 29.6 33.7
257 31.4 29.3 33.4
260 31.7 29.7 33.8
263 31.4 29.3 33.5
266 31.7 29.7 33.8
269 31.5 29.4 33.5
272 31.7 29.7 33.8
275 31.5 29.4 33.6
278 31.8 29.8 33.9
281 31.5 29.4 33.5
284 31.8 29.8 33.9
287 31.6 29.5 33.6
290 31.8 29.8 33.9
293 31.5 29.4 33.6
296 31.8 29.8 33.9
299 31.6 29.5 33.6
302 31.8 29.8 33.9
305 31.6 29.5 33.7
308 31.9 29.9 34.0
311 31.6 29.5 33.6
314 31.9 29.9 34.0
317 31.7 29.6 33.7
320 31.9 29.9 34.0
323 31.7 29.6 33.8
326 31.9 29.9 34.0
329 31.7 29.6 33.7
332 32.0 30.0 34.1
335 31.7 29.6 33.8
338 32.0 30.0 34.1
341 31.8 29.7 33.8
344 32.0 30.0 34.1
347 31.8 29.7 33.9
350 32.0 30.0 34.1
353 31.7 29.6 33.8
356 32.1 30.1 34.2
359 31.8 29.7 33.8
362 32.0 30.0 34.1
365 31.8 29.7 33.9
368 32.1 30.1 34.2
371 31.9 29.8 33.9
374 32.1 30.1 34.2
377 31.8 29.7 33.9
380 32.1 30.1 34.2
383 31.9 29.8 33.9
386 32.1 30.1 34.2
389 31.8 29.7 33.9
392 32.2 30.2 34.3
395 31.9 29.8 34.0
398 32.1 30.1 34.2
401 31.9 29.8 33.9
404 32.2 30.2 34.3
407 31.3 29.4 33.3
410 32.1 30.1 34.2
413 31.9 29.8 34.0
416 32.2 30.2 34.3
419 31.9 29.8 33.9
422 32.1 30.1 34.2
425 31.9 29.8 34.0
428 32.2 30.2 34.3
431 32.0 29.9 34.0
434 32.2 30.2 34.3
437 31.9 29.8 34.0
440 32.2 30.2 34.3
443 32.0 29.9 34.0
446 32.2 30.2 34.3
449 31.9 29.8 34.0
452 32.2 30.2 34.3
455 32.0 29.9 34.1
458 32.3 30.3 34.4
461 32.0 29.9 34.0
464 32.2 30.2 34.3
467 31.9 29.8 34.0
470 32.2 30.2 34.3
473 32.0 29.9 34.1
476 32.3 30.3 34.4
479 32.0 29.9 34.0
482 32.2 30.2 34.3
485 32.0 29.9 34.1
488 32.3 30.3 34.4
491 32.0 29.9 34.0
494 32.2 30.2 34.3
497 32.1 30.0 34.2
499 32.2 30.2 34.3
}\tN

\pgfplotstableread{
x m lo hi
0 10.5 8.8 12.2
1 11.0 9.2 12.8
2 11.4 9.4 13.4
3 11.9 9.8 14.0
4 13.0 10.6 15.4
5 14.8 11.9 17.7
6 16.1 12.9 19.3
7 16.9 13.6 20.2
8 17.6 14.2 21.0
9 18.3 14.7 21.9
10 18.8 15.2 22.4
12 19.4 15.8 23.0
14 19.9 16.4 23.4
16 20.7 17.3 24.1
18 21.4 18.1 24.5
20 21.6 18.6 24.4
23 21.7 18.6 24.6
26 21.5 18.2 24.3
29 21.2 17.9 24.5
32 21.1 17.6 24.2
35 20.9 17.6 24.4
38 20.8 17.2 24.0
41 20.6 17.1 24.2
44 20.5 16.8 23.8
47 20.3 16.9 23.9
50 20.2 16.5 23.6
53 20.1 16.6 23.9
56 19.9 16.2 23.5
59 19.8 16.3 23.7
62 19.7 15.9 23.3
65 19.5 15.8 23.5
68 19.7 16.0 23.3
71 19.8 15.9 23.7
74 19.9 16.2 23.5
77 20.1 16.1 23.9
80 20.0 16.4 23.6
83 20.2 16.3 24.0
86 20.1 16.5 23.7
89 20.3 16.3 24.1
92 20.1 16.6 23.8
95 20.2 16.3 24.0
98 20.4 16.7 24.2
101 20.2 16.4 23.9
104 20.4 16.8 24.3
107 20.3 16.5 24.0
110 20.5 16.7 24.3
113 20.3 16.5 24.1
116 20.5 16.9 24.2
119 20.4 16.5 24.4
122 20.6 16.8 24.2
125 20.4 16.6 24.4
128 20.6 16.9 24.2
131 20.5 16.6 24.4
134 20.6 16.9 24.3
137 20.4 16.6 24.5
140 20.6 16.8 24.3
143 20.5 16.6 24.5
146 20.7 17.0 24.4
149 20.5 16.7 24.6
152 20.7 16.9 24.3
155 20.6 16.7 24.5
158 20.8 17.1 24.6
161 20.6 16.8 24.4
164 20.7 16.9 24.7
167 20.6 16.7 24.4
170 20.8 17.1 24.6
173 20.6 16.8 24.5
176 20.8 17.0 24.7
179 20.7 16.8 24.5
182 20.8 17.1 24.7
185 20.6 16.7 24.4
188 20.8 17.0 24.8
191 20.7 16.9 24.5
194 20.9 17.1 24.7
197 20.7 16.8 24.6
200 20.8 17.1 24.5
203 20.7 16.8 24.8
206 20.9 17.2 24.6
209 20.7 16.8 24.7
212 20.8 17.1 24.5
215 20.6 16.7 24.7
218 20.8 17.0 24.6
221 20.7 16.9 24.8
224 20.9 17.1 24.6
227 20.7 16.7 24.7
230 20.9 17.2 24.8
233 20.7 16.9 24.5
236 20.8 17.0 24.8
239 20.7 16.8 24.6
242 20.9 17.1 24.8
245 20.6 16.8 24.5
248 20.8 17.0 24.7
251 20.8 16.9 24.6
254 20.9 17.2 24.9
257 20.7 16.8 24.6
260 20.9 17.1 24.8
263 20.8 16.9 24.6
266 20.9 17.2 24.9
269 20.8 16.9 24.7
272 20.9 17.1 24.6
275 20.8 17.0 24.8
278 20.9 17.2 24.7
281 20.7 16.9 24.6
284 20.9 17.1 24.9
287 20.8 17.0 24.6
290 20.9 17.2 24.8
293 20.8 16.9 24.7
296 21.0 17.2 24.9
299 20.8 17.0 24.6
302 20.9 17.2 24.8
305 20.8 16.9 24.7
308 21.0 17.3 24.9
311 20.8 17.0 24.7
314 21.0 17.2 24.9
317 20.9 17.0 24.7
320 21.0 17.3 24.9
323 20.9 17.1 24.8
326 21.0 17.2 25.0
329 20.8 17.0 24.7
332 21.0 17.3 24.9
335 20.9 17.0 24.8
338 21.1 17.3 25.0
341 20.9 17.1 24.7
344 21.1 17.3 25.0
347 20.9 17.1 24.8
350 21.1 17.4 24.9
353 21.0 17.1 24.8
356 21.2 17.4 25.1
359 21.0 17.2 24.8
362 21.1 17.3 25.0
365 20.9 17.1 24.8
368 21.1 17.3 25.0
371 21.0 17.2 24.8
374 21.1 17.4 25.0
377 20.9 17.1 24.9
380 21.1 17.3 25.1
383 21.0 17.2 24.8
386 21.2 17.4 25.0
389 21.0 17.1 24.9
392 21.1 17.4 25.1
395 21.0 17.2 24.8
398 21.2 17.4 25.1
401 21.1 17.3 24.9
404 21.2 17.5 25.2
407 21.0 17.2 24.9
410 21.2 17.4 25.0
413 21.1 17.3 25.1
416 21.2 17.5 25.0
419 21.0 17.2 25.1
422 21.2 17.4 24.9
425 21.0 17.2 25.0
428 21.2 17.4 25.2
431 21.1 17.3 24.9
434 21.2 17.5 25.1
437 21.0 17.2 24.9
440 21.2 17.4 25.2
443 21.1 17.2 24.9
446 21.2 17.5 25.1
449 21.0 17.2 25.0
452 21.2 17.4 25.2
455 21.1 17.3 24.9
458 21.2 17.5 25.1
461 21.0 17.2 24.9
464 21.2 17.4 25.2
467 21.1 17.3 24.9
470 21.2 17.5 25.1
473 21.1 17.2 25.0
476 21.3 17.5 25.2
479 21.1 17.3 24.9
482 21.2 17.4 25.1
485 21.0 17.2 24.9
488 21.2 17.4 25.2
491 21.1 17.3 24.9
494 21.2 17.5 25.1
497 21.0 17.2 24.9
499 21.1 17.3 25.0
}\tK

\newcommand{\series}[2]{%
  \addplot[draw=#2, draw opacity=0.3, line width=0.9pt, mark=none, line join=round, name path=hi#2] table[x=x,y=hi]{#1};
  \addplot[draw=#2, draw opacity=0.3, line width=0.9pt, mark=none, line join=round, name path=lo#2] table[x=x,y=lo]{#1};
  \addplot[fill=#2, fill opacity=0.3, draw=none] fill between[of=hi#2 and lo#2];
  \addplot[draw=#2, line width=1.9pt, mark=none, line join=round] table[x=x,y=m]{#1};
}

\begin{document}
\begin{tikzpicture}
\begin{axis}[
  at={(0,0)}, anchor=south west,
  scale only axis,
  width=345.6pt, height=252.29pt,
  xmin=-10, xmax=500,
  ymin=4.6, ymax=99.2,
  xtick={0,200,400},
  ytick={20,40,60,80},
  tick align=inside,
  xtick pos=left, ytick pos=left,
  major tick length=3.5pt,
  major tick style={line width=0.8pt, black},
  axis line style={line width=1pt, black},
  /pgf/number format/assume math mode=true,
  tick label style={font=\fontsize{24}{28}\selectfont},
  xticklabel style={inner sep=0pt, yshift=-4.2pt},
  yticklabel style={inner sep=0pt, xshift=-3.7pt},
  label style={font=\fontsize{24}{28}\selectfont},
  xlabel={Epoch},
  ylabel={Test Accuracy (\%)},
  xlabel style={at={(axis description cs:0.5,-0.1863)}, anchor=base, inner sep=0pt},
  ylabel style={at={(axis description cs:-0.1097,0.5)}, anchor=base, inner sep=0pt},
  clip=true,
]
\series{\tB}{cB}
\series{\tO}{cO}
\series{\tG}{cG}
\series{\tR}{cR}
\series{\tP}{cP}
\series{\tN}{cN}
\series{\tK}{cK}
\end{axis}
\pgfresetboundingbox
\useasboundingbox (-69.12pt,-51.84pt) rectangle (391.68pt,293.76pt);
\end{tikzpicture}
\end{document}
